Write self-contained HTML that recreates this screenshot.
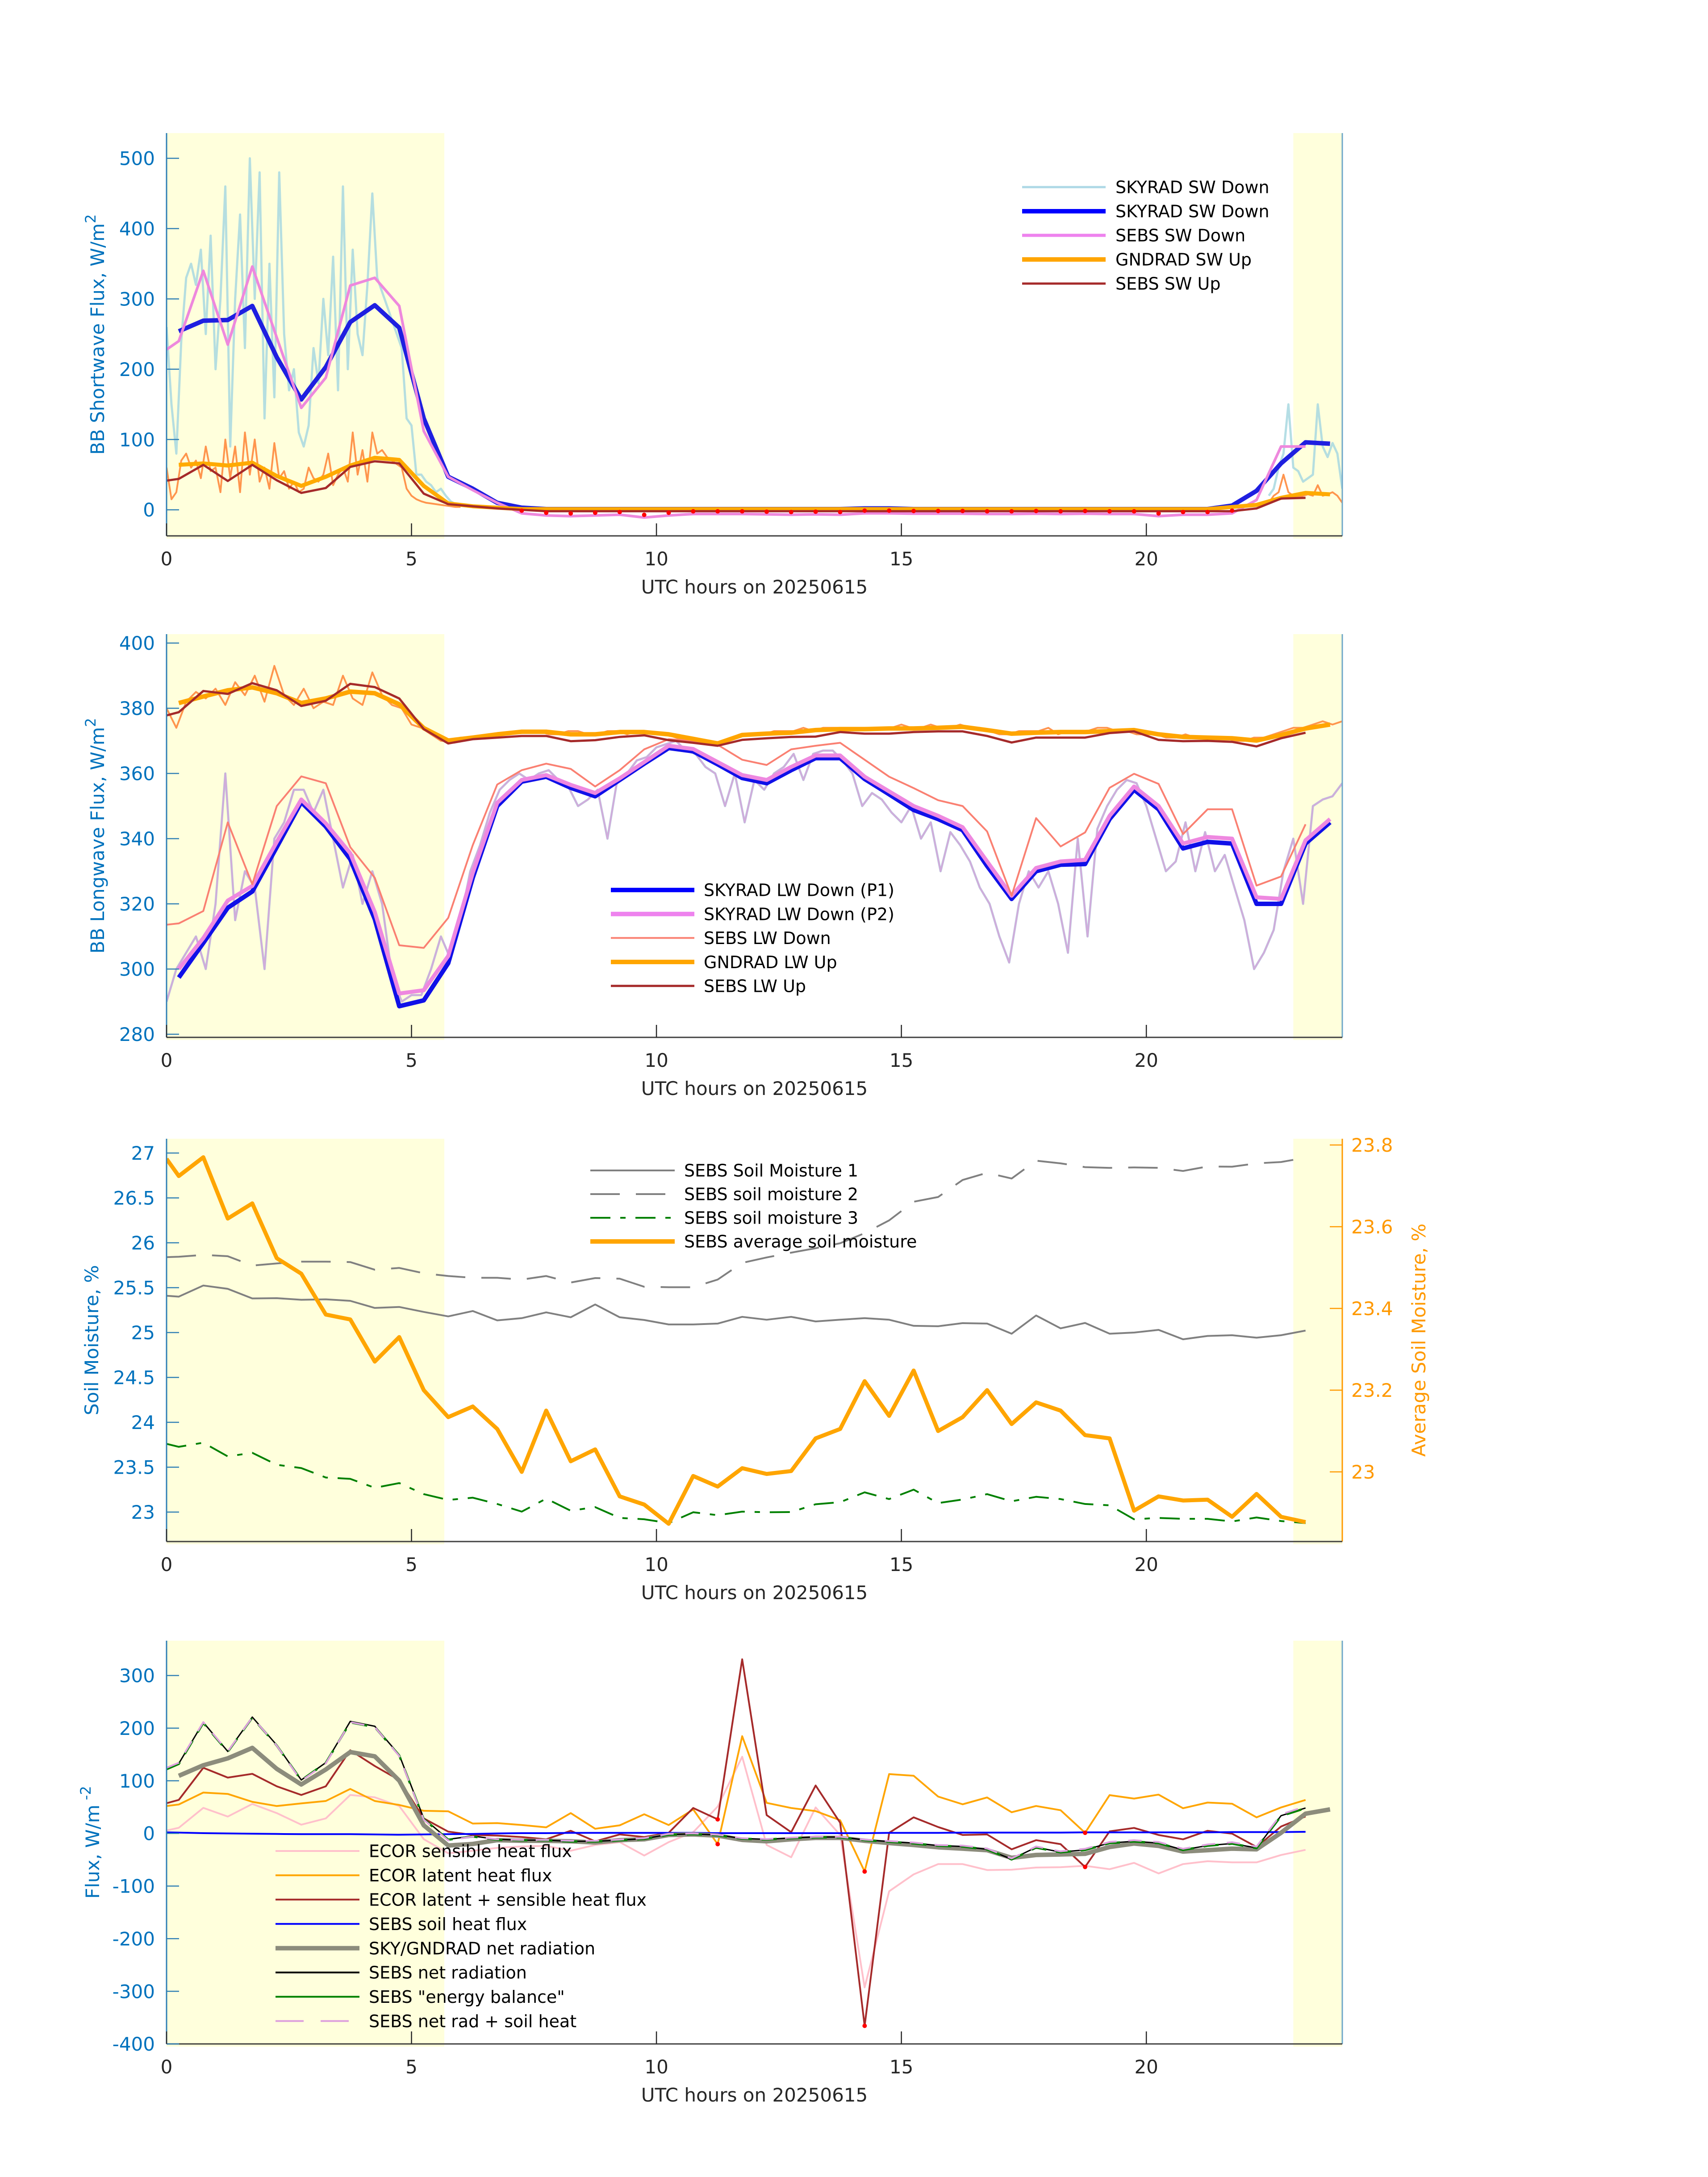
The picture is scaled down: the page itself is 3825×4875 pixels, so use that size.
<!DOCTYPE html>
<html><head><meta charset="utf-8"><title>Radiation and flux timeseries 20250615</title>
<style>
html,body{margin:0;padding:0;background:#fff;}
svg{display:block;font-family:"DejaVu Sans","Liberation Sans",sans-serif;}
</style></head>
<body>
<svg id="fig" xmlns="http://www.w3.org/2000/svg" width="3825" height="4875" viewBox="0 0 3825 4875"></svg>
<script>
// ---------- DATA ----------
// half-hour time grids (hours UTC)
const tHalf = [0.25,0.75,1.25,1.75,2.25,2.75,3.25,3.75,4.25,4.75,5.25,5.75,6.25,6.75,7.25,7.75,8.25,8.75,9.25,9.75,10.25,10.75,11.25,11.75,12.25,12.75,13.25,13.75,14.25,14.75,15.25,15.75,16.25,16.75,17.25,17.75,18.25,18.75,19.25,19.75,20.25,20.75,21.25,21.75,22.25,22.75,23.25,23.75];
const tSebs = [0,0.25,0.75,1.25,1.75,2.25,2.75,3.25,3.75,4.25,4.75,5.25,5.75,6.25,6.75,7.25,7.75,8.25,8.75,9.25,9.75,10.25,10.75,11.25,11.75,12.25,12.75,13.25,13.75,14.25,14.75,15.25,15.75,16.25,16.75,17.25,17.75,18.25,18.75,19.25,19.75,20.25,20.75,21.25,21.75,22.25,22.75,23.25];
const xTicks = [0,5,10,15,20];

// Panel 1: shortwave
const swTicks = [0,100,200,300,400,500];
const swDownRawEarly = [260,150,80,240,330,350,320,370,250,390,200,300,460,90,300,420,230,500,300,480,130,350,160,480,250,170,200,110,90,120,230,180,300,220,360,170,460,200,370,250,220,320,450,330,310,290,270,250,230,130,120,50,50,40,35,25,30,20,12,8,5];
const swDownRawLate = [20,30,60,80,150,60,55,40,45,50,150,90,75,95,80,30];
const swUpRawEarly = [60,15,25,70,80,60,70,45,90,55,60,25,100,45,90,25,110,50,100,40,60,30,95,45,55,30,40,25,30,60,45,40,50,80,35,50,60,40,110,50,85,40,110,80,85,75,70,65,60,30,20,15,12,10,9,8,7,6,5,4,4];
const swUpRawLate = [10,20,25,50,25,20,18,20,22,20,35,20,22,25,20,10];
const skyradSwDown = [254,269,270,290,217,157,203,267,291,259,130,47,30,10,3,1,1,1,1,1,1,1,1,1,1,1,1,1,2,2,1,1,1,1,1,1,1,1,1,1,1,1,1,6,27,66,96,94];
const sebsSwDown = [228,240,340,235,346,245,145,188,319,330,290,112,47,28,10,-5,-8,-9,-8,-7,-11,-8,-6,-6,-6,-6.5,-7,-6.5,-7,-5,-5,-5.5,-5.5,-5.5,-6,-6,-5.5,-6,-5.5,-6,-6,-9,-7,-7,-5,14,90,90];
const gndradSwUp = [64,66,63,67,48,34,47,63,74,71,34,9,5,3,1,1,1,1,1,1,1,1,1,1,1,1,1,1,1,1,1,1,1,1,1,1,1,1,1,1,1,1,1,4,7,17,24,22];
const sebsSwUp = [41.5,44,64,41,64,42,24,31,61,69,66,23,8,5,2,0,-2,-2,-2,-2,-2,-2,-2,-2,-2,-2,-2,-2,-2,-2,-2,-2,-2,-2,-2,-2,-2,-2,-2,-2,-2,-2,-2,-2,-2,2,16,17];

// Panel 2: longwave
const lwTicks = [280,300,320,340,360,380,400];
const lwDownRaw = [290,300,305,310,300,320,360,315,330,325,300,340,345,355,355,348,355,340,325,335,320,330,320,298,290,292,292,300,310,303,315,330,338,348,355,358,360,358,360,361,358,356,350,352,355,340,358,360,364,365,368,369,370,367,366,362,360,350,360,345,358,355,360,362,366,358,366,367,367,364,360,350,354,352,348,345,350,340,345,330,342,338,333,325,320,310,302,320,330,325,330,320,305,340,310,343,350,355,358,357,350,340,330,333,345,330,342,330,335,325,315,300,305,312,330,340,320,350,352,353,357];
const lwUpRaw = [380,374,382,385,383,386,381,388,384,390,382,393,384,381,386,380,382,381,390,383,381,391,384,381,380,375,374,372,370,370,371,371,371,372,372,372,373,373,373,372,372,373,373,372,372,373,373,372,373,373,372,372,371,370,370,369,369,370,371,372,372,372,373,373,373,374,373,374,374,374,374,374,374,374,374,375,374,374,375,374,374,375,374,374,373,372,372,373,373,373,374,372,373,373,373,374,374,373,373,372,372,372,371,371,372,371,371,371,371,370,370,371,371,372,373,374,374,375,376,375,376];
const skyradLwDownP1 = [297.4,308,318.8,323.8,337.4,351.2,343.7,333.7,315.3,288.6,290.4,301.8,328,350,357.5,359,355.6,353,358,363,367.8,366.8,362.8,358.6,357,361,364.7,364.7,358.3,353.6,348.8,346,342.6,331.6,321.5,330,332,332.2,346,355,349,337,339,338.5,320,320,338.5,345];
const skyradLwDownP2 = [300,309.5,321,325.5,339,352,344.7,335.5,317.5,292.5,293.5,304,329.5,351,358,359.5,356.5,354,358.5,363.5,368.5,367.5,363.5,359.5,358,362,365.5,365.5,359,354.5,350,347,343.5,333,322.5,331,333,333.5,347,356,350,338.5,340.5,340,322,321.5,339.5,346];
const sebsLwDown = [313.6,314,317.8,345,326,350,359.1,357,337.4,328,307.3,306.5,315.7,338,356.6,361,363,361.4,356,361,367.4,370.5,370,368.8,364.2,362.6,367.4,368.5,369.4,364.2,359,355.5,351.8,350,342.2,322.5,346.3,337.6,341.9,355.6,359.9,356.8,341.4,349,349,325.6,328.4,344.4];
const gndradLwUp = [381.6,383.6,385.5,386.4,384.6,381.6,383,385.1,384.6,381.2,373.9,370.1,371,372,372.8,372.8,372,372,372.7,372.7,372,370.6,369.2,371.8,372.2,372.5,373.3,373.6,373.6,373.8,373.8,374,374.3,373.3,372.2,372.5,372.7,372.7,373,373.3,372,371.2,371,370.8,370.1,371.8,373.8,375];
const sebsLwUp = [377.8,378.8,385.3,384.4,387.7,385.5,380.7,382.3,387.5,386.5,383,373.6,369.2,370.5,371,371.5,371.5,369.9,370.2,371.2,371.7,370.2,369.4,368.5,370.3,370.8,371.2,371.3,372.7,372.2,372.2,372.7,372.9,372.9,371.5,369.5,371,371,371,372.4,372.9,370.3,369.9,370,369.7,368.3,370.8,372.5];

// Panel 3: soil moisture
const smTicksLeft = [23,23.5,24,24.5,25,25.5,26,26.5,27];
const smTickLabelsLeft = ["23","23.5","24","24.5","25","25.5","26","26.5","27"];
const smTicksRight = [23,23.2,23.4,23.6,23.8];
const smTickLabelsRight = ["23","23.2","23.4","23.6","23.8"];
const soilMoisture1 = [25.41,25.40,25.524,25.487,25.38,25.383,25.365,25.37,25.353,25.274,25.285,25.23,25.18,25.24,25.136,25.16,25.225,25.17,25.313,25.17,25.14,25.09,25.09,25.1,25.175,25.143,25.175,25.124,25.143,25.16,25.143,25.075,25.07,25.105,25.1,24.987,25.19,25.047,25.107,24.987,25.0,25.03,24.925,24.962,24.97,24.943,24.97,25.022];
const soilMoisture2 = [25.84,25.845,25.865,25.85,25.746,25.77,25.79,25.79,25.785,25.7,25.72,25.66,25.63,25.61,25.61,25.59,25.63,25.557,25.607,25.6,25.51,25.505,25.505,25.59,25.776,25.837,25.89,25.94,25.995,26.107,26.25,26.457,26.51,26.70,26.78,26.716,26.915,26.885,26.843,26.835,26.84,26.835,26.8,26.85,26.848,26.885,26.9,26.948];
const soilMoisture3 = [23.76,23.727,23.773,23.62,23.66,23.527,23.49,23.385,23.37,23.27,23.323,23.2,23.135,23.16,23.09,23.005,23.15,23.015,23.055,22.935,22.92,22.877,22.998,22.965,23.005,22.998,23.0,23.087,23.11,23.22,23.145,23.25,23.1,23.14,23.2,23.12,23.17,23.145,23.09,23.075,22.92,22.935,22.925,22.925,22.895,22.94,22.9,22.877];
const soilMoistureAvg = [23.766,23.724,23.77,23.62,23.657,23.523,23.485,23.385,23.373,23.27,23.33,23.2,23.134,23.16,23.105,23.0,23.15,23.026,23.055,22.94,22.92,22.873,22.99,22.964,23.009,22.995,23.002,23.082,23.105,23.222,23.137,23.248,23.1,23.134,23.2,23.117,23.17,23.15,23.09,23.082,22.905,22.94,22.93,22.932,22.89,22.946,22.89,22.877];

// Panel 4: energy fluxes
const fluxTicks = [-400,-300,-200,-100,0,100,200,300];
const ecorSensible = [5.6,10.7,48.5,32,56,38.6,16.5,28.5,73,68.5,52,-11,-37.7,-33,-27.5,-24.7,-23.7,-32.9,-22,-16.6,-42,-16.6,2.3,51,145.7,-22,-45.3,49.4,-3,-292.6,-110,-77.8,-58.3,-58.3,-69.6,-69,-64.8,-64.2,-61.5,-68,-56,-76,-58.3,-52.9,-55,-55,-41,-31.2];
const ecorLatent = [52,55,77.6,75,60,52,57,61.6,84.5,61.6,54,43,42,18.7,19.6,15.9,11.5,38.6,8.8,15.3,36.4,15.9,45.6,-20.4,184.7,58,48.3,42.4,25,-72.4,112.7,109.5,70,55.3,68.3,40.2,52.1,44,1.2,72.7,66.2,73.7,47.8,58.6,56.4,30.5,49.4,63.5];
const ecorSum = [57.3,63.7,124.7,106,113.2,89.5,73,89.5,158,128,101.5,28.5,3.4,-3,-4.2,-6.9,-11.2,5,-15,-2,-6.9,1.2,48.3,26.7,330.8,34.8,2.3,91,20.2,-365.6,1.2,30.5,12.1,-3,-2,-30.2,-12.8,-20.4,-63.7,3.9,10.4,-3,-11.2,5,-0.4,-25.8,13.1,32.1];
const sebsSoilHeat = [2,1.5,0.5,0,-0.5,-1,-1.5,-1.5,-1.5,-2,-2.5,-2,-1.5,-1,0,0.5,0.5,1,1,1,1,1,1,0.5,0.5,0.5,0.5,0.5,0.5,0.5,1,1,1,1.5,1.5,1.5,1.5,1.5,2,2,2,2,2,2,2.5,2.5,2.5,3];
const skyGndNetRad = [109.4,129.5,142.6,162.5,122.7,93,121.4,154.6,146.4,100.2,15.3,-23,-20,-12.8,-14,-14,-15,-17.2,-12.8,-11.2,-3,-2,-4.2,-12.3,-15,-11.2,-8.5,-8.5,-14,-18.3,-22,-26.4,-29,-31.8,-46.4,-41,-40,-38.8,-25.8,-19.3,-23.7,-34.5,-31.8,-29,-30.2,1.2,37.5,45.6];
const sebsNetRad = [122.7,132.8,210.9,155.8,221,167.8,101.5,134.5,212.9,203.6,149.2,28.5,-11.2,-5,-11.2,-12.8,-12.8,-15,-15,-12.8,-10,-2,-1,-3,-9.6,-11.2,-8.5,-6.9,-6.9,-12.3,-15.5,-18.3,-23.1,-24.7,-30.2,-49,-26.4,-35.6,-31.2,-18.3,-15,-18.3,-31.2,-23.1,-19.3,-27.5,33.7,48.3];
const sebsEnergyBal = [122,132,210,155,220,167,101,134,211,202,148,27,-12,-6,-12,-13,-13,-15.5,-15.5,-13,-10.5,-2.5,-1.5,-3.5,-10,-11.5,-9,-7.5,-7.5,-12.8,-16,-19,-23.5,-25,-30.5,-49.5,-27,-36,-31.5,-18.5,-15.5,-18.5,-31.5,-23.5,-19.5,-28,33,48];
const sebsNetRadSoil = [124.7,134.3,211.4,155.8,220.5,166.8,100,133,211.4,202.1,147.2,26,-13.2,-6,-11.2,-12.3,-12.3,-14,-14,-11.8,-9,-1,0,-2.5,-9.1,-10.7,-8,-6.4,-6.4,-11.8,-14.5,-17.3,-22.1,-23.2,-28.7,-47.5,-24.9,-34.1,-29.2,-16.3,-13,-16.3,-29.2,-21.1,-16.8,-25,36.2,51.3];
const ecorFlagTimes = [11.25,14.25,18.75];

// ---------- GEOMETRY ----------
const NS = "http://www.w3.org/2000/svg";
const svg = document.getElementById('fig');
const X0 = 373, X1 = 3006, PXH = (X1 - X0) / 24;
function sx(t){ return X0 + t * PXH; }
function mk(tag, attrs, parent){
  const e = document.createElementNS(NS, tag);
  for (const k in attrs) e.setAttribute(k, attrs[k]);
  (parent || svg).appendChild(e);
  return e;
}
const AXBLUE = "#2f7fb5", TICKBLUE = "#0072bd", DARK = "#262626", YELLOW = "#ffffdc", ORANGE_AX = "#ff9900";
const panels = [
  {top:298, bottom:1200, y:function(v){return 1141.6 - v*1.5742;}, ylab:"BB Shortwave Flux, W/m", sup:"2", ylx:218},
  {top:1420, bottom:2323, y:function(v){return 2316 - (v-280)*7.3;}, ylab:"BB Longwave Flux, W/m", sup:"2", ylx:218},
  {top:2550, bottom:3452, y:function(v){return 3386 - (v-23)*201;}, ylab:"Soil Moisture, %", sup:"", ylx:205},
  {top:3674, bottom:4577, y:function(v){return 3752 - (v-300)*1.1786;}, ylab:"Flux, W/m", sup:" -2", ylx:207}
];
const yRight3 = function(v){ return 3296 - (v-23)*915; };

function pathD(ts, vs, yf){
  let d = "";
  for (let i = 0; i < ts.length && i < vs.length; i++){
    d += (i ? "L" : "M") + sx(ts[i]).toFixed(1) + "," + yf(vs[i]).toFixed(1);
  }
  return d;
}
function stepTimes(start, step, n){ const a=[]; for(let i=0;i<n;i++) a.push(+(start+i*step).toFixed(3)); return a; }

function drawLine(g, ts, vs, yf, stroke, width, name, dash, opacity){
  const p = mk('path', {d:pathD(ts, vs, yf), fill:"none", stroke:stroke, "stroke-width":width, "stroke-linejoin":"round", "stroke-linecap":"butt"}, g);
  if (dash) p.setAttribute('stroke-dasharray', dash);
  if (opacity) p.setAttribute('stroke-opacity', opacity);
  
  
  return p;
}

function panelFrame(i){
  const P = panels[i];
  const g = mk('g', {});
  
  
  const cp = mk('clipPath', {id:'clip'+i}, g);
  mk('rect', {x:X0, y:P.top, width:X1-X0, height:P.bottom-P.top}, cp);
  const s1 = mk('rect', {x:X0, y:P.top, width:sx(5.67)-X0, height:P.bottom-P.top+6, fill:YELLOW}, g);
  
  
  const s2 = mk('rect', {x:sx(23.0), y:P.top, width:X1-sx(23.0), height:P.bottom-P.top+6, fill:YELLOW}, g);
  
  
  const data = mk('g', {"clip-path":"url(#clip"+i+")"}, g);
  
  
  return {g:g, data:data, P:P};
}

function axes(f, yTicks, yLabels, rightColor){
  const g = f.g, P = f.P;
  const ax = mk('g', {}, g);
  
  
  const la = mk('line', {x1:X0, y1:P.top, x2:X0, y2:P.bottom, stroke:AXBLUE, "stroke-width":3}, ax);
  
  
  const ra = mk('line', {x1:X1, y1:P.top, x2:X1, y2:P.bottom, stroke:rightColor || "#7fb8d8", "stroke-width":3}, ax);
  
  
  const ba = mk('line', {x1:X0, y1:P.bottom, x2:X1, y2:P.bottom, stroke:"#404040", "stroke-width":3}, ax);
  
  
  for (let k = 0; k < yTicks.length; k++){
    const yy = P.y(yTicks[k]);
    const tl = mk('line', {x1:X0, y1:yy, x2:X0+28, y2:yy, stroke:AXBLUE, "stroke-width":2.5}, ax);
    
    
    const tx = mk('text', {x:347, y:yy, "font-size":42, fill:TICKBLUE, "text-anchor":"end", dy:"0.36em"}, ax);
    tx.textContent = yLabels ? yLabels[k] : String(yTicks[k]);
    
    
  }
  for (let k = 0; k < xTicks.length; k++){
    const xx = sx(xTicks[k]);
    const tl = mk('line', {x1:xx, y1:P.bottom, x2:xx, y2:P.bottom-28, stroke:DARK, "stroke-width":2.5}, ax);
    
    
    const tx = mk('text', {x:xx, y:P.bottom+51, "font-size":42, fill:DARK, "text-anchor":"middle", dy:"0.36em"}, ax);
    tx.textContent = String(xTicks[k]);
    
    
  }
  const xl = mk('text', {x:(X0+X1)/2, y:P.bottom+114, "font-size":42, fill:DARK, "text-anchor":"middle", dy:"0.36em"}, ax);
  xl.textContent = "UTC hours on 20250615";
  
  
  const cy = (P.top + P.bottom) / 2;
  const yl = mk('text', {x:P.ylx, y:cy, "font-size":42, fill:TICKBLUE, "text-anchor":"middle", dy:"0.36em", transform:"rotate(-90 "+P.ylx+" "+cy+")"}, ax);
  yl.textContent = P.ylab;
  if (P.sup){
    const ts = mk('tspan', {"baseline-shift":"super", "font-size":32}, yl);
    ts.textContent = P.sup;
  }
  
  
}

function legend(f, x1, x2, tx, y0, dy, items){
  const lg = mk('g', {}, f.g);
  
  
  items.forEach(function(it, k){
    const yy = y0 + k*dy;
    const row = mk('g', {}, lg);
    
    
    const ln = mk('line', {x1:x1, y1:yy, x2:x2, y2:yy, stroke:it[1], "stroke-width":it[2]}, row);
    if (it[3]) ln.setAttribute('stroke-dasharray', it[3]);
    
    
    const t = mk('text', {x:tx, y:yy, "font-size":38, fill:"#000", dy:"0.36em"}, row);
    t.textContent = it[0];
    
    
  });
}

// ---------- PANEL 1 ----------
(function(){
  const f = panelFrame(0), y = f.P.y, d = f.data;
  drawLine(d, stepTimes(0,0.1,swDownRawEarly.length), swDownRawEarly, y, "#a8d8e0", 5, 'skyrad-sw-down-raw-early', null, 0.85);
  drawLine(d, stepTimes(22.5,0.1,swDownRawLate.length), swDownRawLate, y, "#a8d8e0", 5, 'skyrad-sw-down-raw-late', null, 0.85);
  drawLine(d, stepTimes(0,0.1,swUpRawEarly.length), swUpRawEarly, y, "#ff8a3d", 4, 'gndrad-sw-up-raw-early', null, 0.9);
  drawLine(d, stepTimes(22.5,0.1,swUpRawLate.length), swUpRawLate, y, "#ff8a3d", 4, 'gndrad-sw-up-raw-late', null, 0.9);
  drawLine(d, tHalf, skyradSwDown, y, "#1f1fe0", 10, 'skyrad-sw-down-avg');
  drawLine(d, tSebs, sebsSwDown, y, "#ee88dd", 6, 'sebs-sw-down');
  drawLine(d, tHalf, gndradSwUp, y, "#ffaa00", 9, 'gndrad-sw-up');
  drawLine(d, tSebs, sebsSwUp, y, "#a52a2a", 5, 'sebs-sw-up');
  for (let i = 0; i < tSebs.length; i++){
    if (tSebs[i] >= 7.2 && tSebs[i] <= 21.8){
      const c = mk('circle', {cx:sx(tSebs[i]), cy:y(sebsSwDown[i]) - 6, r:5, fill:"#ff0000"}, d);
      
      
    }
  }
  axes(f, swTicks, null, "#6fa8c8");
  legend(f, 2289, 2476, 2498, 419, 54, [
    ["SKYRAD SW Down","#add8e6",5],["SKYRAD SW Down","#0000ff",10],["SEBS SW Down","#ee82ee",7],["GNDRAD SW Up","#ffa500",10],["SEBS SW Up","#a52a2a",5]]);
})();

// ---------- PANEL 2 ----------
(function(){
  const f = panelFrame(1), y = f.P.y, d = f.data;
  const tr = stepTimes(0,0.2,lwDownRaw.length);
  drawLine(d, tr, lwDownRaw, y, "#a8d8e0", 5, 'skyrad-lw-down-raw-p1', null, 0.9);
  drawLine(d, tr, lwDownRaw, y, "#d8a0d8", 4, 'skyrad-lw-down-raw-p2', null, 0.8);
  drawLine(d, stepTimes(0,0.2,lwUpRaw.length), lwUpRaw, y, "#ff8a3d", 4, 'gndrad-lw-up-raw', null, 0.9);
  drawLine(d, tHalf, skyradLwDownP1, y, "#1010e8", 10, 'skyrad-lw-down-p1');
  drawLine(d, tHalf, skyradLwDownP2, y, "#ee88e0", 9, 'skyrad-lw-down-p2');
  drawLine(d, tSebs.slice(0, sebsLwDown.length), sebsLwDown, y, "#fa8072", 4, 'sebs-lw-down');
  drawLine(d, tHalf, gndradLwUp, y, "#ffa500", 10, 'gndrad-lw-up');
  drawLine(d, tSebs, sebsLwUp, y, "#a52a2a", 5, 'sebs-lw-up');
  axes(f, lwTicks, null, "#6fa8c8");
  legend(f, 1368, 1555, 1576, 1993, 53.7, [
    ["SKYRAD LW Down (P1)","#0000ff",10],["SKYRAD LW Down (P2)","#ee82ee",10],["SEBS LW Down","#fa8072",4],["GNDRAD LW Up","#ffa500",10],["SEBS LW Up","#a52a2a",5]]);
})();

// ---------- PANEL 3 ----------
(function(){
  const f = panelFrame(2), y = f.P.y, d = f.data;
  drawLine(d, tSebs, soilMoisture1, y, "#808080", 4, 'soil-moisture-1');
  drawLine(d, tSebs, soilMoisture2, y, "#808080", 4, 'soil-moisture-2', "66,36");
  drawLine(d, tSebs, soilMoisture3, y, "#008000", 4, 'soil-moisture-3', "45,22,12,22");
  drawLine(d, tSebs, soilMoistureAvg, yRight3, "#ffa500", 9, 'soil-moisture-average');
  axes(f, smTicksLeft, smTickLabelsLeft, ORANGE_AX);
  const rg = mk('g', {}, f.g);
  
  
  for (let k = 0; k < smTicksRight.length; k++){
    const yy = yRight3(smTicksRight[k]);
    const tl = mk('line', {x1:X1-28, y1:yy, x2:X1, y2:yy, stroke:ORANGE_AX, "stroke-width":2.5}, rg);
    
    
    const tx = mk('text', {x:3026, y:yy, "font-size":42, fill:"#ff9900", dy:"0.36em"}, rg);
    tx.textContent = smTickLabelsRight[k];
    
    
  }
  const cy = (f.P.top + f.P.bottom)/2;
  const rl = mk('text', {x:3177, y:cy, "font-size":42, fill:"#ff9900", "text-anchor":"middle", dy:"0.36em", transform:"rotate(-90 3177 "+cy+")"}, rg);
  rl.textContent = "Average Soil Moisture, %";
  
  
  legend(f, 1322, 1511, 1532, 2621, 53, [
    ["SEBS Soil Moisture 1","#808080",4],["SEBS soil moisture 2","#808080",4,"66,36"],["SEBS soil moisture 3","#008000",4,"45,22,12,22"],["SEBS average soil moisture","#ffa500",10]]);
})();

// ---------- PANEL 4 ----------
(function(){
  const f = panelFrame(3), y = f.P.y, d = f.data;
  drawLine(d, tSebs, ecorSensible, y, "#ffc0cb", 4, 'ecor-sensible-heat-flux');
  drawLine(d, tSebs, ecorLatent, y, "#ffa500", 4, 'ecor-latent-heat-flux');
  drawLine(d, tSebs, ecorSum, y, "#a52a2a", 4, 'ecor-latent-plus-sensible');
  drawLine(d, tSebs, sebsSoilHeat, y, "#0000ff", 4, 'sebs-soil-heat-flux');
  drawLine(d, tHalf, skyGndNetRad, y, "#8c8c7c", 10, 'sky-gndrad-net-radiation');
  drawLine(d, tSebs, sebsNetRad, y, "#000000", 3, 'sebs-net-radiation');
  drawLine(d, tSebs, sebsEnergyBal, y, "#008000", 5, 'sebs-energy-balance', "34,22");
  drawLine(d, tSebs, sebsNetRadSoil, y, "#dda0dd", 4, 'sebs-net-rad-plus-soil-heat', "30,26");
  for (let k = 0; k < ecorFlagTimes.length; k++){
    const idx = tSebs.indexOf(ecorFlagTimes[k]);
    [ecorLatent, ecorSum].forEach(function(arr){
      const c = mk('circle', {cx:sx(tSebs[idx]), cy:y(arr[idx]), r:5, fill:"#ff0000"}, d);
      
      
    });
  }
  axes(f, fluxTicks, null, "#6fa8c8");
  legend(f, 617, 805, 826, 4145, 54.4, [
    ["ECOR sensible heat flux","#ffc0cb",4],["ECOR latent heat flux","#ffa500",4],["ECOR latent + sensible heat flux","#a52a2a",4],["SEBS soil heat flux","#0000ff",4],["SKY/GNDRAD net radiation","#8c8c7c",10],["SEBS net radiation","#000000",4],["SEBS \"energy balance\"","#008000",4],["SEBS net rad + soil heat","#dda0dd",4,"63,38"]]);
})();
</script>
</body></html>
